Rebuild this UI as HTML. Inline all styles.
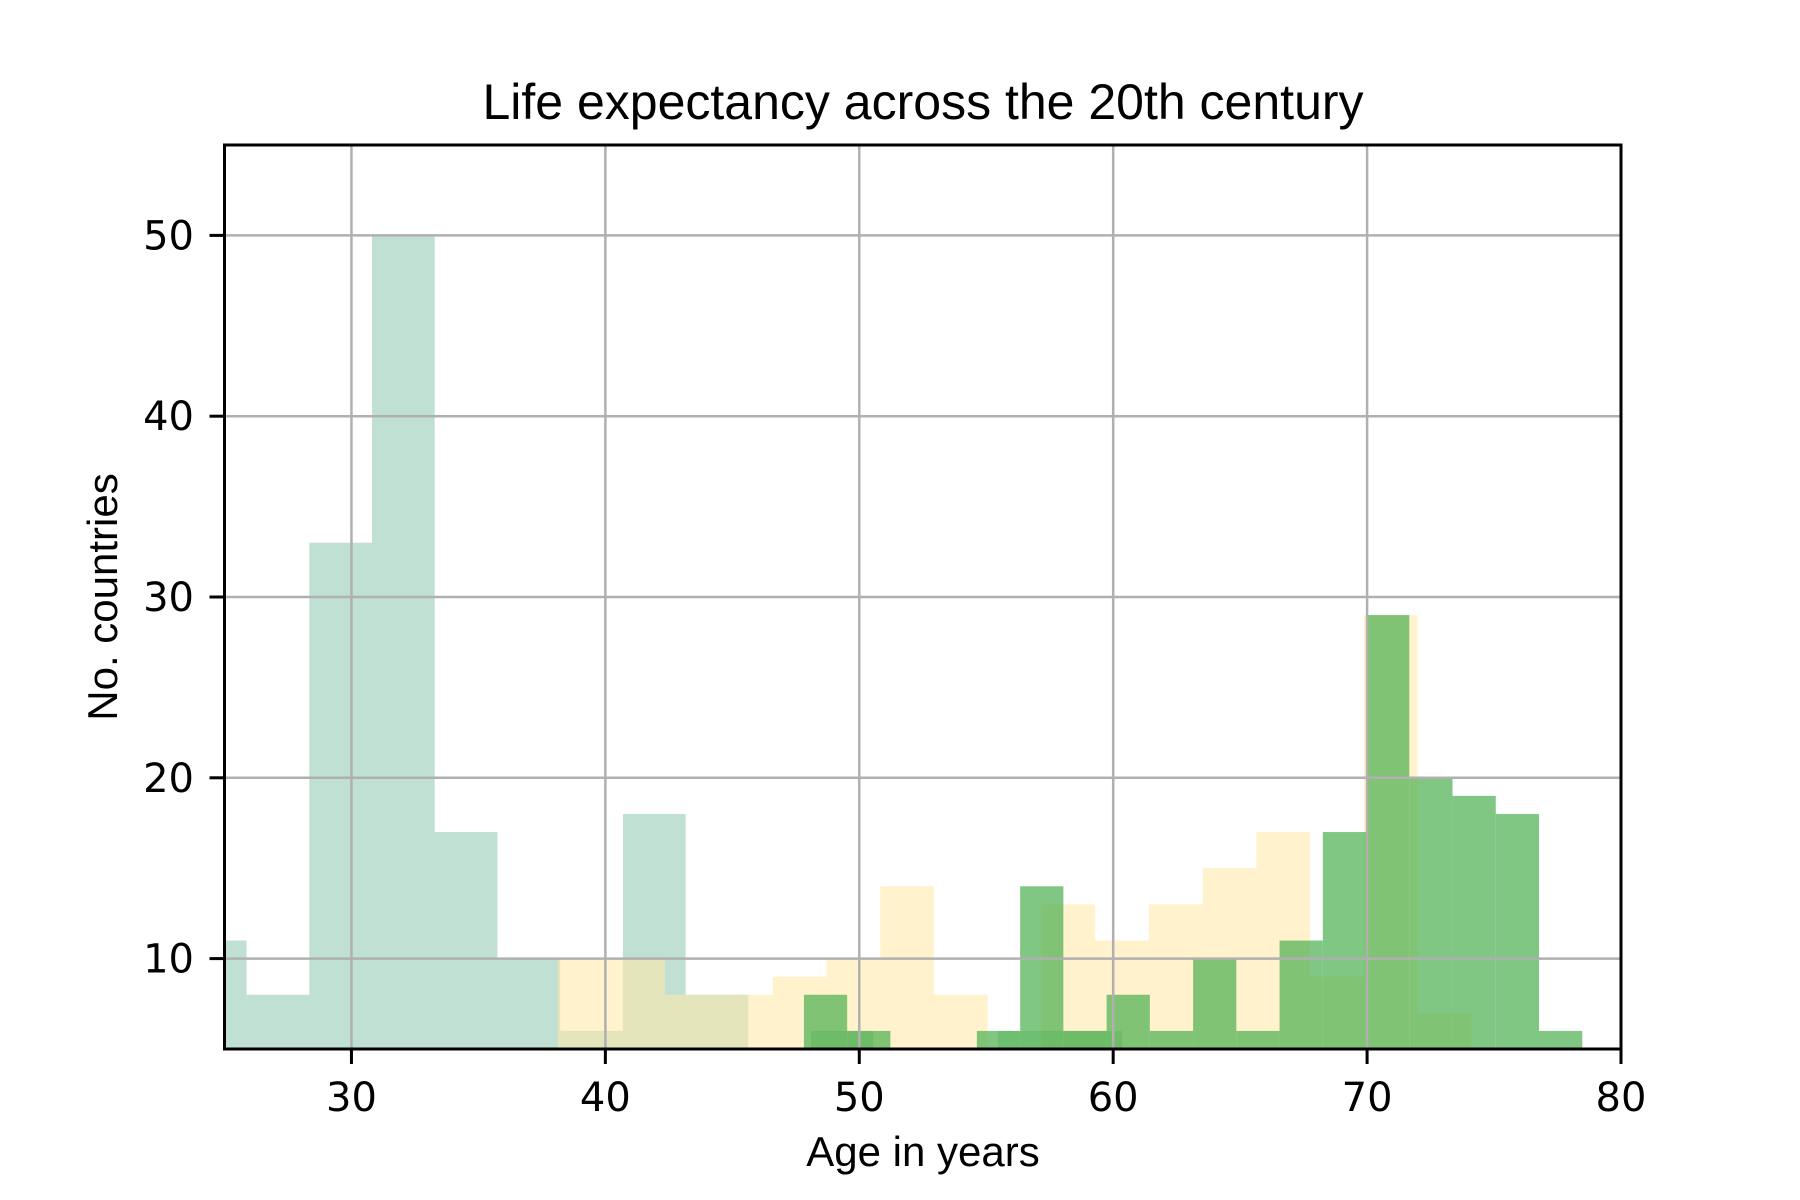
<!DOCTYPE html>
<html><head><meta charset="utf-8"><style>
html,body{margin:0;padding:0;background:#fff;}
svg{display:block;}
</style></head><body>
<svg id="chart" width="1800" height="1200" viewBox="0 0 1800 1200" xmlns="http://www.w3.org/2000/svg">
<defs><clipPath id="plotclip"><rect x="224.5" y="145" width="1396.5" height="904"/></clipPath></defs>
<rect width="1800" height="1200" fill="#fff"/>
<g id="bars" clip-path="url(#plotclip)"></g>
<g id="grid"></g>
<g id="axes"></g>
<text x="923" y="119" text-anchor="middle" font-family="Liberation Sans, sans-serif" font-size="50" fill="#000">Life expectancy across the 20th century</text>
<text x="923" y="1166" text-anchor="middle" font-family="Liberation Sans, sans-serif" font-size="42" fill="#000">Age in years</text>
<text x="0" y="0" transform="translate(117,597) rotate(-90)" text-anchor="middle" font-family="Liberation Sans, sans-serif" font-size="42" fill="#000">No. countries</text>
</svg>
<script>
// data
const tealStart = 23.4, tealWidth = 2.47;
const tealCounts = [11, 8, 33, 50, 17, 10, 6, 18, 8];
const yellowStart = 38.13, yellowWidth = 2.116;
const yellowCounts = [10, 10, 8, 8, 9, 10, 14, 8, 4, 13, 11, 13, 15, 17, 9, 29, 7];
const greenBStart = 48.1, greenBWidth = 2.45;
const greenBCounts = [6, 4, 4, 6, 6];
const greenAStart = 47.82, greenAWidth = 1.703;
const greenACounts = [8, 6, 4, 4, 6, 14, 6, 8, 6, 10, 6, 11, 17, 29, 20, 19, 18, 6];
const xTicks = [30, 40, 50, 60, 70, 80];
const yTicks = [10, 20, 30, 40, 50];

const X0 = 224.5, X1 = 1621, Y0 = 145, Y1 = 1049;
const xMin = 25, xMax = 80, yMin = 5, yMax = 55;
const sx = v => X0 + (v - xMin) / (xMax - xMin) * (X1 - X0);
const sy = v => Y1 - (v - yMin) / (yMax - yMin) * (Y1 - Y0);
const NS = 'http://www.w3.org/2000/svg';

function drawSeries(start, width, counts, fill, name) {
  const g = document.getElementById('bars');
  counts.forEach((c, i) => {
    const a = start + i * width, b = a + width;
    const r = document.createElementNS(NS, 'rect');
    const top = sy(Math.max(c, yMin));
    r.setAttribute('x', sx(a));
    r.setAttribute('width', sx(b) - sx(a));
    r.setAttribute('y', top);
    r.setAttribute('height', Math.max(0, sy(yMin) - top + 2));
    r.setAttribute('fill', fill);
    
    
    g.appendChild(r);
  });
}
drawSeries(tealStart, tealWidth, tealCounts, 'rgba(129,193,169,0.5)', 'teal');
drawSeries(yellowStart, yellowWidth, yellowCounts, 'rgba(255,232,167,0.57)', 'yellow');
drawSeries(greenBStart, greenBWidth, greenBCounts, 'rgba(76,175,80,0.35)', 'green-b');
drawSeries(greenAStart, greenAWidth, greenACounts, 'rgba(76,175,80,0.7)', 'green-a');

const grid = document.getElementById('grid');
const axes = document.getElementById('axes');
function line(parent, x1, y1, x2, y2, stroke, w, name) {
  const l = document.createElementNS(NS, 'line');
  l.setAttribute('x1', x1); l.setAttribute('y1', y1);
  l.setAttribute('x2', x2); l.setAttribute('y2', y2);
  l.setAttribute('stroke', stroke); l.setAttribute('stroke-width', w);
  
  
  parent.appendChild(l);
}
function label(x, y, txt, anchor, name) {
  const t = document.createElementNS(NS, 'text');
  t.setAttribute('x', x); t.setAttribute('y', y);
  t.setAttribute('text-anchor', anchor);
  t.setAttribute('font-family', 'DejaVu Sans, sans-serif');
  t.setAttribute('font-size', '40');
  t.textContent = txt;
  
  
  axes.appendChild(t);
}
xTicks.forEach(v => {
  if (v < xMax) line(grid, sx(v), Y0, sx(v), Y1, '#b0b0b0', 2.5, 'x-gridline-' + v);
  line(axes, sx(v), Y1, sx(v), Y1 + 15, '#000', 3, 'x-tick-' + v);
  label(sx(v), 1111, String(v), 'middle', 'x-tick-label-' + v);
});
yTicks.forEach(v => {
  line(grid, X0, sy(v), X1, sy(v), '#b0b0b0', 2.5, 'y-gridline-' + v);
  line(axes, X0 - 15, sy(v), X0, sy(v), '#000', 3, 'y-tick-' + v);
  label(194, sy(v) + 14, String(v), 'end', 'y-tick-label-' + v);
});
const frame = document.createElementNS(NS, 'rect');
frame.setAttribute('x', X0); frame.setAttribute('y', Y0);
frame.setAttribute('width', X1 - X0); frame.setAttribute('height', Y1 - Y0);
frame.setAttribute('fill', 'none'); frame.setAttribute('stroke', '#000'); frame.setAttribute('stroke-width', 3);


axes.appendChild(frame);
</script>
</body></html>
